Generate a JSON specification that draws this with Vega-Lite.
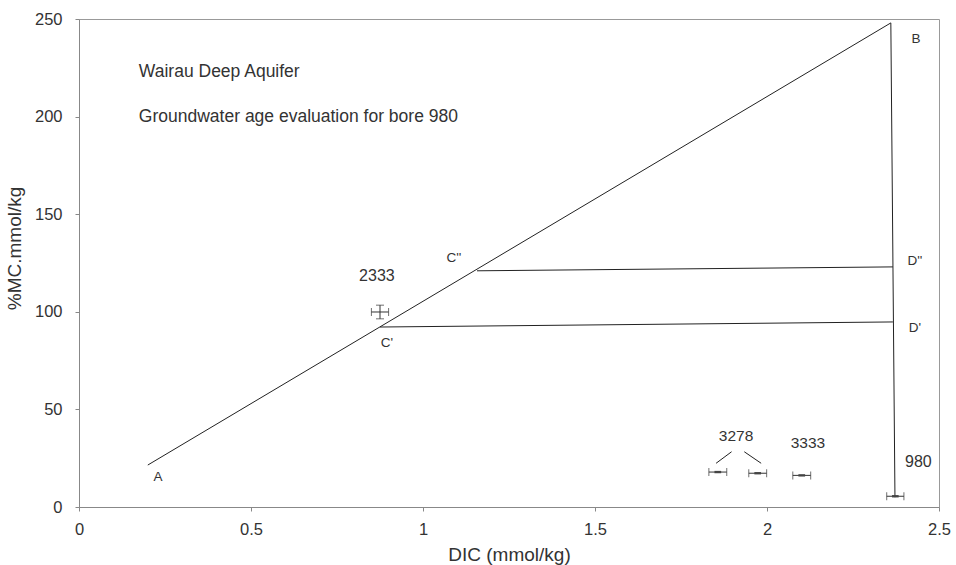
{
  "$schema": "https://vega.github.io/schema/vega-lite/v6.json",
  "width": 860,
  "height": 488,
  "autosize": {"type": "none"},
  "padding": {"left": 79, "top": 19, "right": 17, "bottom": 58},
  "background": "white",
  "config": {
    "view": {"stroke": "#999", "strokeWidth": 1},
    "font": "Liberation Sans",
    "axis": {"grid": false, "domainColor": "#888", "tickColor": "#888", "tickSize": 4, "labelFontSize": 16.5, "labelColor": "#333", "titleFontSize": 19, "titleFontWeight": "normal", "titleColor": "#333", "labelFlush": false}
  },
  "datasets": {
    "lines": [
      {"seg": "AB", "ord": 1, "x": 0.2, "y": 21.5},
      {"seg": "AB", "ord": 2, "x": 2.36, "y": 248},
      {"seg": "BV", "ord": 1, "x": 2.36, "y": 248},
      {"seg": "BV", "ord": 2, "x": 2.372, "y": 5},
      {"seg": "CD2", "ord": 1, "x": 1.157, "y": 121},
      {"seg": "CD2", "ord": 2, "x": 2.366, "y": 123},
      {"seg": "CD1", "ord": 1, "x": 0.875, "y": 92.2},
      {"seg": "CD1", "ord": 2, "x": 2.366, "y": 94.8},
      {"seg": "L1", "ord": 1, "x": 1.897, "y": 28.3},
      {"seg": "L1", "ord": 2, "x": 1.852, "y": 22.4},
      {"seg": "L2", "ord": 1, "x": 1.934, "y": 28.3},
      {"seg": "L2", "ord": 2, "x": 1.983, "y": 22.4}
    ],
    "bars": [
      {"name": "2333", "x": 0.875, "xlo": 0.85, "xhi": 0.9, "y": 99.9},
      {"name": "3278a", "x": 1.857, "xlo": 1.831, "xhi": 1.883, "y": 17.9},
      {"name": "3278b", "x": 1.973, "xlo": 1.947, "xhi": 1.999, "y": 17.3},
      {"name": "3333", "x": 2.101, "xlo": 2.075, "xhi": 2.127, "y": 16.2},
      {"name": "980", "x": 2.373, "xlo": 2.348, "xhi": 2.398, "y": 5.5}
    ],
    "vbars": [
      {"name": "2333", "x": 0.875, "ylo": 96.4, "yhi": 103.4}
    ],
    "labels": [
      {"t": "A", "x": 0.23, "y": 15.4, "s": 13.5},
      {"t": "B", "x": 2.433, "y": 240, "s": 13.5},
      {"t": "C''", "x": 1.09, "y": 127.5, "s": 13.5},
      {"t": "C'", "x": 0.895, "y": 84, "s": 13.5},
      {"t": "D''", "x": 2.43, "y": 126, "s": 13.5},
      {"t": "D'", "x": 2.43, "y": 91.7, "s": 13.5},
      {"t": "2333", "x": 0.866, "y": 118.3, "s": 16},
      {"t": "3278", "x": 1.91, "y": 36.4, "s": 15.5},
      {"t": "3333", "x": 2.119, "y": 32.8, "s": 15.5},
      {"t": "980", "x": 2.44, "y": 23, "s": 16}
    ],
    "titles": [
      {"t": "Wairau Deep Aquifer", "x": 0.174, "y": 222.8},
      {"t": "Groundwater age evaluation for bore 980", "x": 0.174, "y": 199.8}
    ]
  },
  "layer": [
    {
      "data": {"name": "lines"},
      "mark": {"type": "line", "color": "#222", "strokeWidth": 1},
      "encoding": {
        "x": {"field": "x", "type": "quantitative", "scale": {"domain": [0, 2.5], "nice": false}, "axis": {"values": [0, 0.5, 1, 1.5, 2, 2.5], "title": "DIC (mmol/kg)", "titlePadding": 8, "labelPadding": 10, "format": "~g"}},
        "y": {"field": "y", "type": "quantitative", "scale": {"domain": [0, 250], "nice": false}, "axis": {"values": [0, 50, 100, 150, 200, 250], "title": "%MC.mmol/kg", "titlePadding": 10, "labelPadding": 13, "titleY": 229}},
        "detail": {"field": "seg"},
        "order": {"field": "ord"}
      }
    },
    {
      "data": {"name": "bars"},
      "mark": {"type": "rule", "color": "#333", "strokeWidth": 1},
      "encoding": {
        "x": {"field": "xlo", "type": "quantitative"},
        "x2": {"field": "xhi"},
        "y": {"field": "y", "type": "quantitative"}
      }
    },
    {
      "data": {"name": "bars"},
      "mark": {"type": "tick", "orient": "vertical", "color": "#333", "size": 8, "thickness": 1},
      "encoding": {
        "x": {"field": "xlo", "type": "quantitative"},
        "y": {"field": "y", "type": "quantitative"}
      }
    },
    {
      "data": {"name": "bars"},
      "mark": {"type": "tick", "orient": "vertical", "color": "#333", "size": 8, "thickness": 1},
      "encoding": {
        "x": {"field": "xhi", "type": "quantitative"},
        "y": {"field": "y", "type": "quantitative"}
      }
    },
    {
      "data": {"name": "bars"},
      "transform": [{"filter": "datum.name != '2333'"}],
      "mark": {"type": "point", "shape": "M-1,-0.35L1,-0.35L1,0.35L-1,0.35Z", "filled": true, "color": "#444", "size": 45, "opacity": 1},
      "encoding": {
        "x": {"field": "x", "type": "quantitative"},
        "y": {"field": "y", "type": "quantitative"}
      }
    },
    {
      "data": {"name": "vbars"},
      "mark": {"type": "rule", "color": "#333", "strokeWidth": 1},
      "encoding": {
        "x": {"field": "x", "type": "quantitative"},
        "y": {"field": "ylo", "type": "quantitative"},
        "y2": {"field": "yhi"}
      }
    },
    {
      "data": {"name": "vbars"},
      "mark": {"type": "tick", "orient": "horizontal", "color": "#333", "size": 8, "thickness": 1},
      "encoding": {
        "x": {"field": "x", "type": "quantitative"},
        "y": {"field": "ylo", "type": "quantitative"}
      }
    },
    {
      "data": {"name": "vbars"},
      "mark": {"type": "tick", "orient": "horizontal", "color": "#333", "size": 8, "thickness": 1},
      "encoding": {
        "x": {"field": "x", "type": "quantitative"},
        "y": {"field": "yhi", "type": "quantitative"}
      }
    },
    {
      "data": {"name": "labels"},
      "mark": {"type": "text", "color": "#333", "align": "center", "baseline": "middle"},
      "encoding": {
        "x": {"field": "x", "type": "quantitative"},
        "y": {"field": "y", "type": "quantitative"},
        "text": {"field": "t"},
        "size": {"field": "s", "type": "quantitative", "scale": null}
      }
    },
    {
      "data": {"name": "titles"},
      "mark": {"type": "text", "color": "#333", "align": "left", "baseline": "middle", "fontSize": 17.5},
      "encoding": {
        "x": {"field": "x", "type": "quantitative"},
        "y": {"field": "y", "type": "quantitative"},
        "text": {"field": "t"}
      }
    }
  ]
}
